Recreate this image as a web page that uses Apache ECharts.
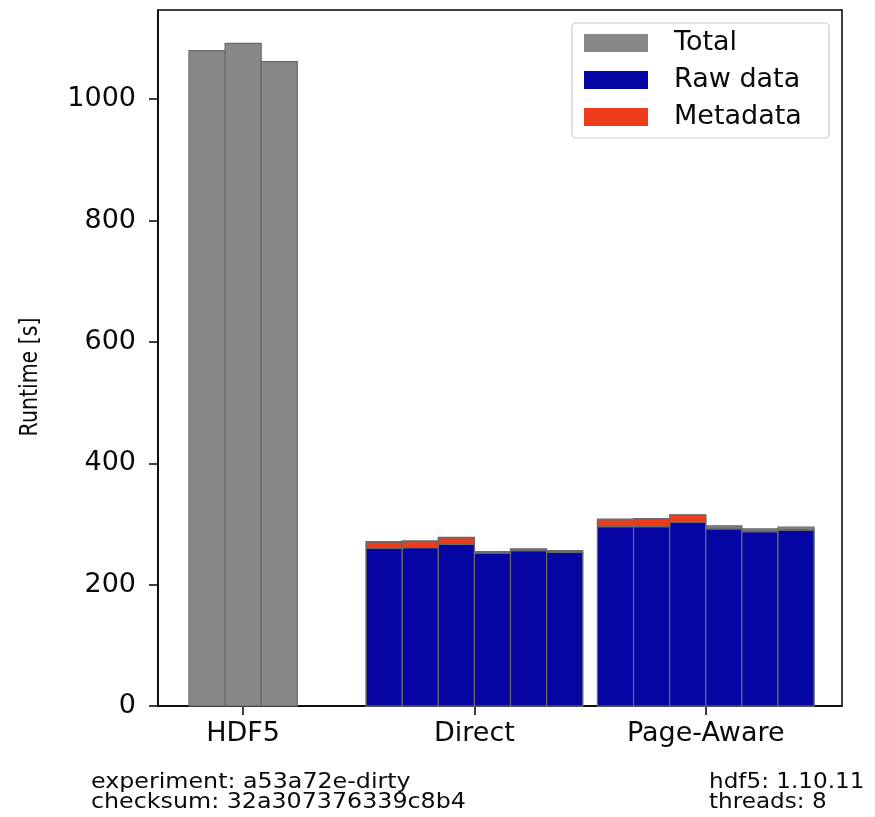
<!DOCTYPE html>
<html>
<head>
<meta charset="utf-8">
<script src="https://cdn.jsdelivr.net/npm/echarts@6/dist/echarts.min.js"></script>
<style>html,body{margin:0;padding:0;background:#fff}#chart{width:875px;height:817px}</style>
</head>
<body>
<div id="chart"></div>
<script>
const categories = ['HDF5', 'Direct', 'Page-Aware'];
const yTicks = [0, 200, 400, 600, 800, 1000];

const hdf5Total = [1080, 1092, 1062];

const directTotal = [271, 272, 278, 254.5, 259, 256];
const directRaw = [260, 261, 266.5, 252, 256, 253];
const directMeta = [10, 10, 10.5, 1, 1, 1];

const pageTotal = [308, 309, 315, 297, 292, 295];
const pageRaw = [295.5, 295.5, 303, 292, 287.5, 290];
const pageMeta = [11, 12, 11, 1, 1, 1];

const BAR_W = 0.156;
const FONT = 'DejaVu Sans';

function xPos(group, i, n) { return group + (i - (n - 1) / 2) * BAR_W; }

const totalData = [], rawData = [], metaData = [];
hdf5Total.forEach((v, i) => totalData.push([xPos(0, i, hdf5Total.length), 0, v]));
[[1, directTotal, directRaw, directMeta], [2, pageTotal, pageRaw, pageMeta]].forEach(([g, tot, raw, meta]) => {
  tot.forEach((v, i) => {
    const x = xPos(g, i, tot.length);
    totalData.push([x, 0, v]);
    rawData.push([x, 0, raw[i]]);
    metaData.push([x, raw[i], raw[i] + meta[i]]);
  });
});

const COLORS = { total: '#888888', raw: '#0505a3', meta: '#ee3b19' };

function makeRender(fill) {
  return function (params, api) {
    const x = api.value(0), y0 = api.value(1), y1 = api.value(2);
    const p0 = api.coord([x - BAR_W / 2, y0]);
    const p1 = api.coord([x + BAR_W / 2, y1]);
    return {
      type: 'rect',
      shape: { x: p0[0], y: p1[1], width: p1[0] - p0[0], height: p0[1] - p1[1] },
      style: { fill: fill, stroke: '#6a6a6a', lineWidth: 1.2 }
    };
  };
}

const chart = echarts.init(document.getElementById('chart'), null, { renderer: 'canvas' });
chart.setOption({
  animation: false,
  backgroundColor: '#ffffff',
  grid: { left: 158, right: 33, top: 10, bottom: 111, show: true, borderColor: '#000', borderWidth: 1.5, backgroundColor: 'transparent' },
  xAxis: {
    type: 'value', min: -0.368, max: 2.589,
    axisLine: { show: true, onZero: false, lineStyle: { color: '#000', width: 1.5 } },
    axisTick: { show: true, length: 9, lineStyle: { color: '#000', width: 1.5 }, customValues: [0, 1, 2] },
    axisLabel: { customValues: [0, 1, 2], formatter: v => categories[Math.round(v)], fontFamily: FONT, fontSize: 27, color: '#0a0a0a', margin: 14 },
    splitLine: { show: false }
  },
  yAxis: {
    type: 'value', min: 0, max: 1147,
    axisLine: { show: true, onZero: false, lineStyle: { color: '#000', width: 1.5 } },
    axisTick: { show: true, length: 9, lineStyle: { color: '#000', width: 1.5 }, customValues: yTicks },
    axisLabel: { customValues: yTicks, formatter: v => String(v), fontFamily: FONT, fontSize: 27, color: '#0a0a0a', margin: 22 },
    splitLine: { show: false }
  },
  legend: {
    orient: 'vertical', right: 46, top: 23,
    padding: [5, 13, 6, 12],
    itemWidth: 64, itemHeight: 18, itemGap: 7,
    borderColor: '#cccccc', borderWidth: 1.2, borderRadius: 4, backgroundColor: '#fff',
    icon: 'rect',
    textStyle: { fontFamily: FONT, fontSize: 27, color: '#0a0a0a', lineHeight: 30, width: 142, padding: [0, 0, 0, 21] },
    data: [
      { name: 'Total', itemStyle: { color: COLORS.total, borderWidth: 0 } },
      { name: 'Raw data', itemStyle: { color: COLORS.raw, borderWidth: 0 } },
      { name: 'Metadata', itemStyle: { color: COLORS.meta, borderWidth: 0 } }
    ]
  },
  series: [
    { name: 'Total', type: 'custom', renderItem: makeRender(COLORS.total), data: totalData, itemStyle: { color: COLORS.total }, encode: { x: 0, y: [1, 2] }, z: 2 },
    { name: 'Raw data', type: 'custom', renderItem: makeRender(COLORS.raw), data: rawData, itemStyle: { color: COLORS.raw }, encode: { x: 0, y: [1, 2] }, z: 3 },
    { name: 'Metadata', type: 'custom', renderItem: makeRender(COLORS.meta), data: metaData, itemStyle: { color: COLORS.meta }, encode: { x: 0, y: [1, 2] }, z: 4 }
  ],
  graphic: [
    { type: 'text', x: 30, y: 377, rotation: Math.PI / 2, scaleX: 0.82,
      style: { text: 'Runtime [s]', font: '25px "DejaVu Sans"', fill: '#0a0a0a', align: 'center', verticalAlign: 'middle' } },
    { type: 'text', x: 91, y: 772, scaleX: 1.08,
      style: { text: 'experiment: a53a72e-dirty\nchecksum: 32a307376339c8b4', font: '22px "DejaVu Sans"', lineHeight: 20, fill: '#0a0a0a', align: 'left', verticalAlign: 'top' } },
    { type: 'text', x: 709, y: 772, scaleX: 1.05,
      style: { text: 'hdf5: 1.10.11\nthreads: 8', font: '22px "DejaVu Sans"', lineHeight: 20, fill: '#0a0a0a', align: 'left', verticalAlign: 'top' } }
  ]
});
</script>
</body>
</html>
